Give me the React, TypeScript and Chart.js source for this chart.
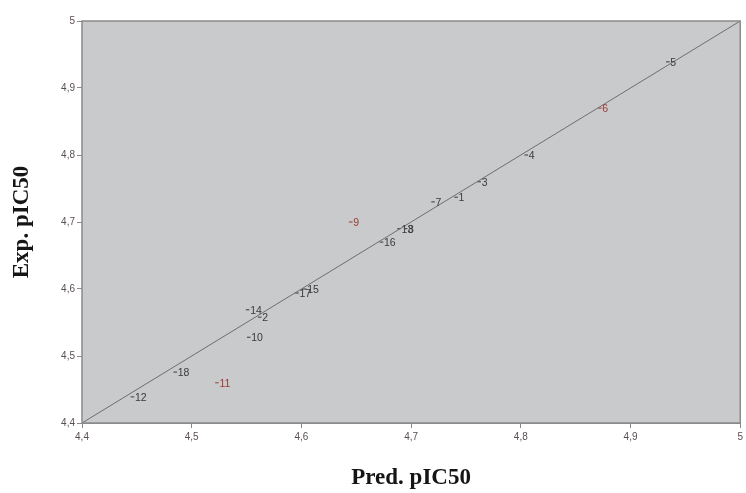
import React, { useEffect, useRef } from "react";
import { Chart, registerables } from "chart.js";

Chart.register(...registerables);

const ids = ["5", "6", "4", "3", "1", "7", "13", "8", "16", "9", "17", "15", "14", "2", "10", "11", "18", "12"];
const pred = [4.934, 4.872, 4.805, 4.762, 4.741, 4.72, 4.689, 4.695, 4.673, 4.645, 4.596, 4.603, 4.551, 4.562, 4.552, 4.523, 4.485, 4.446];
const exp = [4.939, 4.87, 4.8, 4.76, 4.737, 4.73, 4.69, 4.69, 4.67, 4.7, 4.594, 4.6, 4.569, 4.558, 4.528, 4.46, 4.476, 4.439];
const outliers = ["6", "9", "11"];
const axisMin = 4.4;
const axisMax = 5;
const xTitle = "Pred. pIC50";
const yTitle = "Exp. pIC50";

const PLOT_BG = "#c9cacb";
const DARK = "#3a3a3a";
const RED = "#9a3b36";

const bgPlugin = {
  id: "bgPlugin",
  beforeDatasetsDraw(chart: any) {
    const { ctx, chartArea: a } = chart;
    ctx.save();
    ctx.fillStyle = PLOT_BG;
    ctx.fillRect(a.left, a.top, a.right - a.left, a.bottom - a.top);
    ctx.restore();
  },
  afterDatasetsDraw(chart: any) {
    const { ctx, chartArea: a } = chart;
    ctx.save();
    ctx.strokeStyle = "#8a8a8a";
    ctx.lineWidth = 1.5;
    ctx.strokeRect(a.left, a.top, a.right - a.left, a.bottom - a.top);
    const meta = chart.getDatasetMeta(1);
    ctx.font = "10.5px 'Liberation Sans', Arial, sans-serif";
    ctx.textBaseline = "middle";
    ctx.textAlign = "left";
    meta.data.forEach((el: any, i: number) => {
      ctx.fillStyle = outliers.includes(ids[i]) ? RED : DARK;
      ctx.fillText(ids[i], el.x + 2.5, el.y + 1);
    });
    ctx.restore();
  },
};

export default function App() {
  const ref = useRef<HTMLCanvasElement>(null);
  useEffect(() => {
    const points = pred.map((p, i) => ({ x: p, y: exp[i] }));
    const colors = ids.map((id) => (outliers.includes(id) ? RED : DARK));
    const chart = new Chart(ref.current!, {
      type: "scatter",
      data: {
        datasets: [
          {
            data: [
              { x: axisMin, y: axisMin },
              { x: axisMax, y: axisMax },
            ],
            showLine: true,
            borderColor: "#6e6e6e",
            borderWidth: 1,
            pointRadius: 0,
          },
          {
            data: points,
            pointStyle: "line",
            pointRadius: 1.8,
            borderWidth: 1,
            borderColor: colors,
            backgroundColor: colors,
          },
        ],
      },
      plugins: [bgPlugin],
      options: {
        animation: false,
        responsive: false,
        layout: { padding: { top: 21, right: 4, left: 0, bottom: 0 } },
        plugins: { legend: { display: false }, tooltip: { enabled: false } },
        scales: {
          x: {
            type: "linear",
            min: axisMin,
            max: axisMax,
            afterFit: (s: any) => {
              s.height = 70;
            },
            ticks: {
              stepSize: 0.1,
              padding: 3,
              color: "#5a5050",
              font: { size: 10, family: "'Liberation Sans', Arial, sans-serif" },
              callback: (v: any) => String(Math.round(Number(v) * 10) / 10).replace(".", ","),
              maxRotation: 0,
            },
            grid: { drawOnChartArea: false, tickLength: 5, color: "#8a8a8a" },
            border: { display: true, color: "#8a8a8a" },
            title: {
              display: true,
              text: xTitle,
              color: "#151515",
              font: { size: 23, weight: "bold", family: "'Liberation Serif', 'DejaVu Serif', serif" },
              padding: { top: 0, bottom: 1 },
            },
          },
          y: {
            type: "linear",
            min: axisMin,
            max: axisMax,
            afterFit: (s: any) => {
              s.width = 82;
            },
            ticks: {
              stepSize: 0.1,
              padding: 2,
              color: "#5a5050",
              font: { size: 10, family: "'Liberation Sans', Arial, sans-serif" },
              callback: (v: any) => String(Math.round(Number(v) * 10) / 10).replace(".", ","),
            },
            grid: { drawOnChartArea: false, tickLength: 5, color: "#8a8a8a" },
            border: { display: true, color: "#8a8a8a" },
            title: {
              display: true,
              text: yTitle,
              color: "#151515",
              font: { size: 23, weight: "bold", family: "'Liberation Serif', 'DejaVu Serif', serif" },
              padding: { top: 8, bottom: 0 },
            },
          },
        },
      },
    });
    return () => chart.destroy();
  }, []);
  return (
    <div style={{ position: "fixed", left: 0, top: 0, width: 746, height: 493, background: "#fff" }}>
      <canvas ref={ref} width={746} height={493} style={{ display: "block" }} />
    </div>
  );
}
